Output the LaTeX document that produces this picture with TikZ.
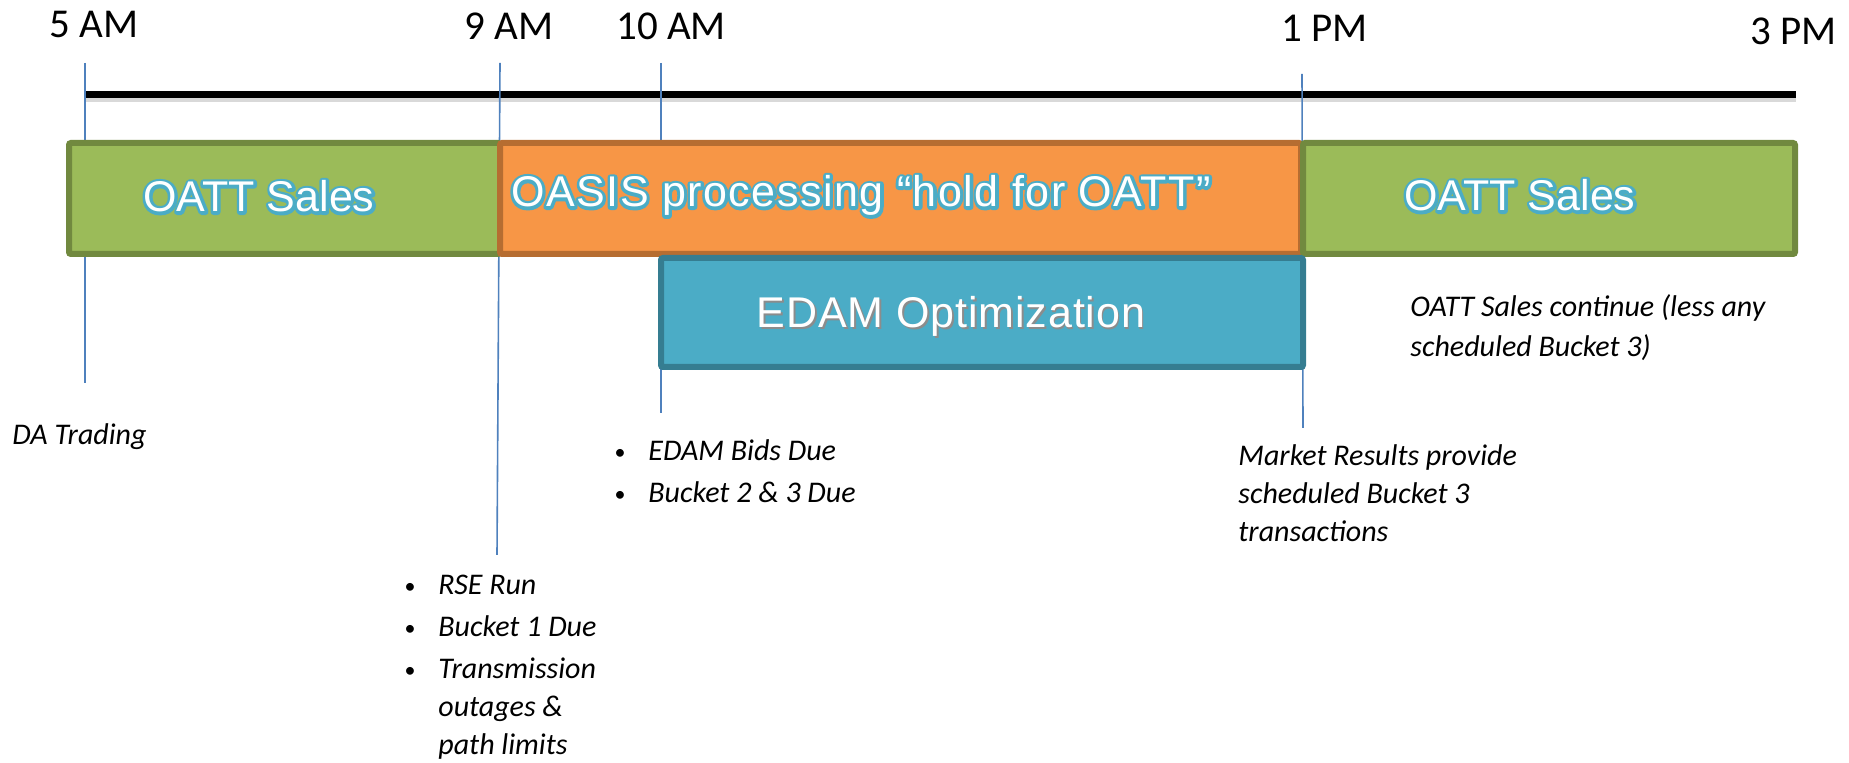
\documentclass[tikz,border=0pt]{standalone}
\usepackage{fontspec}
\setmainfont{Carlito}
\newfontfamily\barfont{Liberation Sans}
\usetikzlibrary{positioning}

\definecolor{salesfill}{HTML}{9BBB59}
\definecolor{salesline}{HTML}{71893F}
\definecolor{oasisfill}{HTML}{F79646}
\definecolor{oasisline}{HTML}{B66D31}
\definecolor{edamfill}{HTML}{4BACC6}
\definecolor{edamline}{HTML}{357D91}
\definecolor{hourblue}{HTML}{4F81BD}
\definecolor{glowblue}{HTML}{4BACC6}

\newcommand\glowtext[1]{\leavevmode\rlap{\color{glowblue}\special{pdf:literal direct 2 Tr 3 w 1 j}#1\special{pdf:literal direct 0 Tr}}#1}
\newcommand\shadowtext[1]{\leavevmode\rlap{\hspace{0.8pt}\raisebox{-0.8pt}{\color{black!45}#1}}#1}
\newcommand\itm{\makebox[17pt][l]{\raisebox{0.8pt}{\fontsize{11}{11}\selectfont\textbullet}}}
\newcommand\cnt{\makebox[17pt]{}}

\tikzset{%
	phase/.style    = {draw, line width=3pt, rounded corners=1pt, minimum height=55.5pt, inner sep=0pt},
	sales/.style    = {phase, fill=salesfill, draw=salesline},
	oasis/.style    = {phase, fill=oasisfill, draw=oasisline},
	edam/.style     = {phase, fill=edamfill, draw=edamline, minimum height=54.5pt},
	hourline/.style = {hourblue, line width=0.8pt},
	hour/.style     = {anchor=base west, inner sep=0pt, font=\fontsize{20.5}{24}\selectfont},
	note/.style     = {anchor=base west, inner sep=0pt, align=left, font=\fontsize{15}{19}\selectfont\itshape},
	barlabel/.style = {anchor=base, inner sep=0pt, text=white, font=\barfont\fontsize{21.5}{26}\selectfont},
}

\begin{document}
\begin{tikzpicture}[x=0.5pt,y=-0.5pt]
	\useasboundingbox (0,0) rectangle (1849,763);
	% time axis
	\coordinate (axisL) at (85,95);
	\coordinate (axisR) at (1796,95);
	\draw[gray!30, line width=3pt] ([yshift=-2pt]axisL) -- ([yshift=-2pt]axisR);  % shadow
	\draw[line width=3.5pt] (axisL) -- (axisR);
	% hour marks
	\coordinate (h5a) at (85,63);    \coordinate (h5b) at (85,383);
	\coordinate (h9a) at (500,63);   \coordinate (h9b) at (497,555);
	\coordinate (h10a) at (661,63);  \coordinate (h10b) at (661,413);
	\coordinate (h1a) at (1302,74);  \coordinate (h1b) at (1303,428);
	\draw[hourline] (h5a) -- (h5b);
	\draw[hourline] (h9a) -- (h9b);
	\draw[hourline] (h10a) -- (h10b);
	\draw[hourline] (h1a) -- (h1b);
	% phases
	\node[sales, minimum width=215.5pt] (sales1) at (284.5,198.5) {};
	\node[oasis, minimum width=400.5pt] (oasis) at (900.5,198.5) {};
	\node[sales, minimum width=246pt] (sales2) at (1549,198.5) {};
	\node[edam, minimum width=321pt] (edam) at (982,312.5) {};
	% hours
	\node[hour] (am5) at (49,38) {5 AM};
	\node[hour] (am9) at (464,40) {9 AM};
	\node[hour] (am10) at (616,40) {10 AM};
	\node[hour] (pm1) at (1281,42) {1 PM};
	\node[hour] (pm3) at (1750,45) {3 PM};
	% notes (base = last line)
	\node[note] (da) at (12,445) {DA Trading};
	\node[note] (rse) at (404,755) {\itm RSE Run\\[2pt] \itm Bucket 1 Due\\[2pt] \itm Transmission\\ \cnt outages \&\\ \cnt path limits};
	\node[note] (bids) at (614,503) {\itm EDAM Bids Due\\[2pt] \itm Bucket 2 \& 3 Due};
	\node[note] (results) at (1238,542) {Market Results provide\\ scheduled Bucket 3\\ transactions};
	\node[note] (cont) at (1410,357) {OATT Sales continue (less any\\[1pt] scheduled Bucket 3)};
	% phase labels
	\node[barlabel] (sales1txt) at (259,212) {\glowtext{OATT Sales}};
	\node[barlabel] (oasistxt) at (861,207) {\addfontfeature{LetterSpace=3.5}\glowtext{OASIS processing “hold for OATT”}};
	\node[barlabel] (sales2txt) at (1520,211) {\glowtext{OATT Sales}};
	\node[barlabel] (edamtxt) at (951,328) {\addfontfeature{LetterSpace=2}\shadowtext{EDAM Optimization}};
\end{tikzpicture}
\end{document}
